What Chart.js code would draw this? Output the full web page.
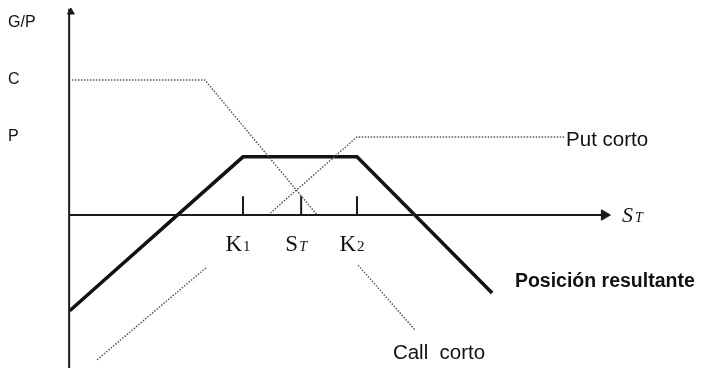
<!DOCTYPE html>
<html>
<head>
<meta charset="utf-8">
<script src="https://cdn.jsdelivr.net/npm/chart.js@4"></script>
<style>
    html, body { margin: 0; padding: 0; background: #fff; }
    #payoffChart { display: block; }
</style>
</head>
<body>
<canvas id="payoffChart" width="707" height="368"></canvas>
<script>
// payoff values (price on x, gain/loss on y)
const callCortoX = [0, 23.3, 43.0, 46, 50.2, 60.2];
const callCortoY = [23.7, 23.7, 0, null, -8.8, -20.2];

const putCortoX = [4.4, 23.7, 29, 34.4, 50, 86.5];
const putCortoY = [-25.4, -9.1, null, 0, 13.7, 13.7];

const posicionX = [-0.4, 30, 50, 73.7];
const posicionY = [-16.8, 10.2, 10.2, -13.7];

const tickValues = [30, 40.2, 50];
const tickMain = ['K', 'S', 'K'];
const tickSub = ['1', 'T', '2'];

const yLabels = ['G/P', 'C', 'P'];
const yLabelValues = [33.7, 23.7, 13.7];

const xMin = -12.63, xMax = 111.4;
const yMin = -26.84, yMax = 37.72;
const axisX = -0.5;
const axisEnd = 93;
const tickHeight = 3.3;

function toPoints(xs, ys) {
    return xs.map((x, i) => ({ x, y: ys[i] }));
}

const dotted = {
    borderColor: '#5a5a5a',
    borderWidth: 1.5,
    borderDash: [1.5, 1.5],
    pointRadius: 0,
    showLine: true,
    fill: false
};

const solidAxis = {
    borderColor: '#1a1a1a',
    borderWidth: 2,
    pointRadius: 0,
    showLine: true,
    fill: false
};

const datasets = [
    Object.assign({ data: [{ x: axisX, y: yMin }, { x: axisX, y: 36.2 }] }, solidAxis),
    Object.assign({ data: [{ x: axisX, y: 0 }, { x: axisEnd, y: 0 }] }, solidAxis),
    // arrow heads
    {
        data: [{ x: axisEnd + 0.4, y: 0 }],
        pointStyle: 'triangle',
        rotation: 90,
        pointRadius: 6,
        backgroundColor: '#1a1a1a',
        borderColor: '#1a1a1a',
        showLine: false
    },
    {
        data: [{ x: axisX + 0.3, y: 35.6 }],
        pointStyle: 'triangle',
        rotation: 0,
        pointRadius: 4,
        backgroundColor: '#1a1a1a',
        borderColor: '#1a1a1a',
        showLine: false
    }
];

tickValues.forEach(v => {
    datasets.push(Object.assign({ data: [{ x: v, y: 0 }, { x: v, y: tickHeight }] }, solidAxis));
});

datasets.push(Object.assign({ label: 'Call corto', data: toPoints(callCortoX, callCortoY) }, dotted));
datasets.push(Object.assign({ label: 'Put corto', data: toPoints(putCortoX, putCortoY) }, dotted));
datasets.push({
    label: 'Posición resultante',
    data: toPoints(posicionX, posicionY),
    borderColor: '#111',
    borderWidth: 3.5,
    pointRadius: 0,
    showLine: true,
    fill: false
});

const labelPlugin = {
    id: 'labels',
    afterDraw(chart) {
        const ctx = chart.ctx;
        const xs = chart.scales.x;
        const ys = chart.scales.y;
        ctx.save();
        ctx.fillStyle = '#111';
        ctx.textBaseline = 'middle';
        ctx.textAlign = 'left';

        // y side labels
        ctx.font = '16px "Liberation Sans", Arial, sans-serif';
        yLabels.forEach((t, i) => {
            ctx.fillText(t, 8, ys.getPixelForValue(yLabelValues[i]));
        });

        // series labels
        ctx.font = '20.5px "Liberation Sans", Arial, sans-serif';
        ctx.fillText('Put corto', xs.getPixelForValue(86.5) + 1, ys.getPixelForValue(13.7) + 3);
        ctx.fillText('Call  corto', xs.getPixelForValue(56.3), ys.getPixelForValue(-24.2));
        ctx.font = 'bold 19.5px "Liberation Sans", Arial, sans-serif';
        ctx.fillText('Posición resultante', xs.getPixelForValue(77.7), ys.getPixelForValue(-11.7));

        // tick labels under the price axis
        ctx.textBaseline = 'alphabetic';
        const base = ys.getPixelForValue(0) + 36;
        tickValues.forEach((v, i) => {
            ctx.font = '23px "Liberation Serif", "Times New Roman", serif';
            const mw = ctx.measureText(tickMain[i]).width;
            const subFont = tickSub[i] === 'T'
                ? 'italic 14px "Liberation Serif", serif'
                : '15px "Liberation Serif", serif';
            ctx.font = subFont;
            const sw = ctx.measureText(tickSub[i]).width;
            const left = xs.getPixelForValue(v) - 5 - (mw + sw + 1) / 2;
            ctx.font = '23px "Liberation Serif", "Times New Roman", serif';
            ctx.fillText(tickMain[i], left, base);
            ctx.font = subFont;
            ctx.fillText(tickSub[i], left + mw + 1, base);
        });

        // axis name at the end of the price axis
        const ax = xs.getPixelForValue(axisEnd) + 20;
        const ay = ys.getPixelForValue(0) + 7;
        ctx.font = 'italic 22px "Liberation Serif", serif';
        ctx.fillText('S', ax, ay);
        const sw2 = ctx.measureText('S').width;
        ctx.font = 'italic 14px "Liberation Serif", serif';
        ctx.fillText('T', ax + sw2 + 2, ay);
        ctx.restore();
    }
};

new Chart(document.getElementById('payoffChart').getContext('2d'), {
    type: 'scatter',
    data: { datasets: datasets },
    options: {
        responsive: false,
        animation: false,
        layout: { padding: 0, autoPadding: false },
        scales: {
            x: { type: 'linear', min: xMin, max: xMax, display: false },
            y: { type: 'linear', min: yMin, max: yMax, display: false }
        },
        plugins: {
            legend: { display: false },
            tooltip: { enabled: false }
        }
    },
    plugins: [labelPlugin]
});
</script>
</body>
</html>
